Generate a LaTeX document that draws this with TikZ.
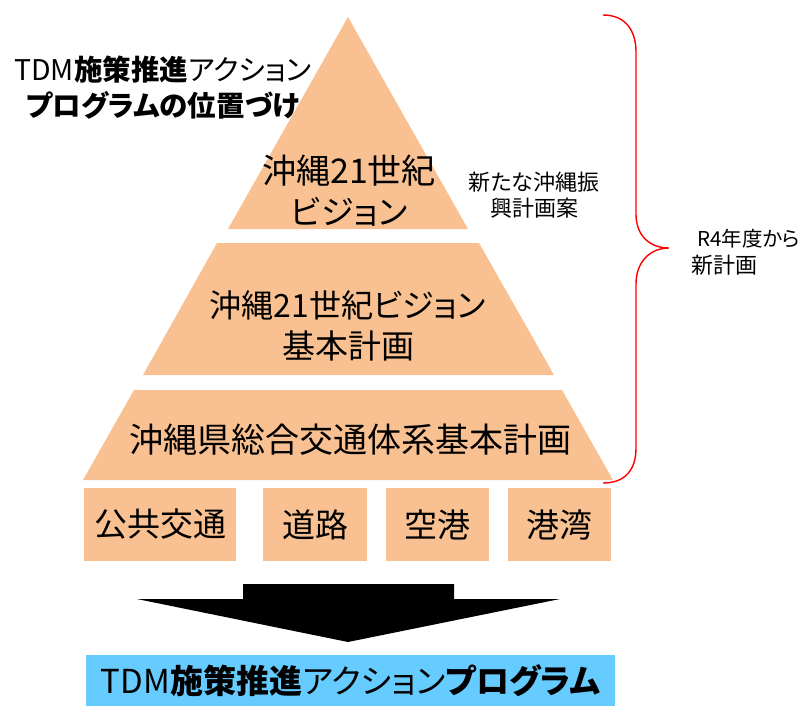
\documentclass[tikz,border=0pt]{standalone}
\usepackage{fontspec}
\setmainfont{Noto Sans CJK JP}[RawFeature={+palt}]
\definecolor{tier}{RGB}{249,193,145}
\definecolor{tdmblue}{RGB}{102,204,255}
\definecolor{bracered}{RGB}{255,0,0}
\tikzset{
  tierfill/.style={fill=tier, draw=none},
  boxnode/.style={fill=tier, draw=none, inner sep=0pt, minimum height=73pt, font=\fontsize{33}{38}\selectfont},
  bigtext/.style={font=\fontsize{33}{45}\selectfont, align=center, inner sep=0pt},
  smalltext/.style={font=\fontsize{22}{27}\selectfont, inner sep=0pt},
  titletext/.style={font=\fontsize{28.5}{35}\selectfont, inner sep=0pt},
  brace/.style={draw=bracered, line width=1.4pt},
}
\begin{document}
\begin{tikzpicture}[x=1pt,y=-1pt]
\useasboundingbox (0,0) rectangle (809,706);
% pyramid tiers
\fill[tierfill] (348,17) -- (468,229) -- (228,229) -- cycle;
\fill[tierfill] (217,243) -- (479,243) -- (554,375) -- (143,375) -- cycle;
\fill[tierfill] (134,390) -- (562,390) -- (613,480) -- (83,480) -- cycle;
\node[bigtext, font=\fontsize{34}{45}\selectfont] (t1a) at (349,171) {沖縄21世紀};
\node[bigtext] (t1b) at (349,212) {ビジョン};
\node[bigtext, font=\fontsize{32}{45}\selectfont] (t2a) at (348,305) {沖縄21世紀ビジョン};
\node[bigtext] (t2b) at (348,346) {基本計画};
\node[bigtext, font=\fontsize{34}{45}\selectfont] (t3) at (350,440) {沖縄県総合交通体系基本計画};
% bottom boxes
\node[boxnode, minimum width=152pt] (b1) at (160,524.5) {公共交通};
\node[boxnode, minimum width=104pt] (b2) at (315,524.5) {道路};
\node[boxnode, minimum width=103pt] (b3) at (437.5,524.5) {空港};
\node[boxnode, minimum width=103pt] (b4) at (559.5,524.5) {港湾};
% arrow
\fill[black] (243,584) -- (454,584) -- (454,599) -- (560,599) -- (348,642) -- (137,599) -- (243,599) -- cycle;
% result box
\node[fill=tdmblue, draw=none, minimum width=529pt, minimum height=51pt, inner sep=0pt,
      font=\fontsize{33}{38}\selectfont] (res) at (350.5,680.5) {TDM{\bfseries 施策推進}アクション{\bfseries プログラム}};
% title
\node[titletext] (ti1) at (163,70) {TDM{\bfseries 施策推進}アクション};
\node[titletext, font=\fontsize{28.5}{35}\selectfont\bfseries] (ti2) at (163,105) {プログラムの位置づけ};
% side texts
\node[smalltext] (n1) at (534,182) {新たな沖縄振};
\node[smalltext] (n2) at (534,208) {興計画案};
% brace
\draw[brace] (603,15) .. controls (625,15) and (636,30) .. (636,52) -- (636,214)
  .. controls (636,236) and (650,248) .. (669,248)
  .. controls (650,248) and (636,262) .. (636,284) -- (636,448)
  .. controls (636,470) and (625,483) .. (603,483);
\node[smalltext, font=\fontsize{20.5}{27}\selectfont, anchor=west] (r1) at (697,239) {R4年度から};
\node[smalltext, anchor=west] (r2) at (691,265) {新計画};
\end{tikzpicture}
\end{document}
